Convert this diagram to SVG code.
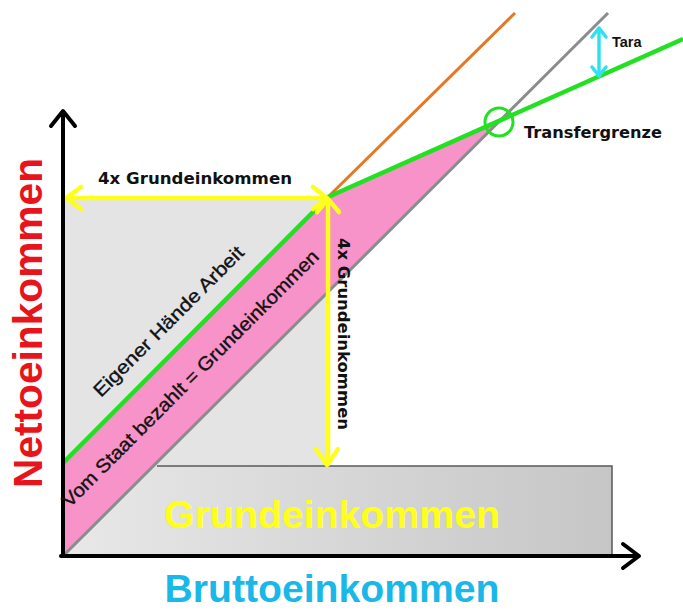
<svg xmlns="http://www.w3.org/2000/svg" width="683" height="610" viewBox="0 0 683 610">
<defs>
<linearGradient id="rectGrad" x1="0" y1="0" x2="1" y2="0">
<stop offset="0" stop-color="#e8e8e8"/>
<stop offset="1" stop-color="#c6c6c6"/>
</linearGradient>
</defs>
<style>
.lbl{font-family:"DejaVu Sans",Verdana,sans-serif;font-weight:bold;fill:#111}
.diag{font-family:"Liberation Sans",Arial,sans-serif;fill:#111;stroke:#111;stroke-width:0.35}
.big{font-family:"Liberation Sans",Arial,sans-serif;font-weight:bold}
.yel{fill:none;stroke:#ffff1e;stroke-width:4.5;stroke-linecap:round;stroke-linejoin:round}
.cy{fill:none;stroke:#2fe0f0;stroke-width:3.5;stroke-linecap:round;stroke-linejoin:round}
.ax{fill:none;stroke:#000;stroke-width:4;stroke-linecap:round;stroke-linejoin:round}
</style>
<rect width="683" height="610" fill="#fff"/>
<g id="area-own-work">
<rect x="63" y="197" width="265" height="359" fill="#e4e4e4"/>
</g>
<g id="box-grundeinkommen">
<rect x="63" y="466" width="549" height="90" fill="url(#rectGrad)"/>
<path d="M157 466 H612 V556" fill="none" stroke="#5a5a5a" stroke-width="1.5"/>
<text class="big" x="332" y="528" font-size="39" fill="#ffff1e" text-anchor="middle" textLength="336" lengthAdjust="spacingAndGlyphs">Grundeinkommen</text>
</g>
<g id="area-transfer">
<polygon points="63,463 328,197 497,123 63,556" fill="#f793c8"/>
</g>
<g id="connectors">
<line x1="328" y1="197" x2="515" y2="13" stroke="#e87722" stroke-width="3"/>
<line x1="63" y1="556" x2="608" y2="13" stroke="#8c8c8c" stroke-width="3"/>
<polyline points="63,463 328,197 683,39" fill="none" stroke="#22e022" stroke-width="4.5" stroke-linejoin="round"/>
<line x1="66" y1="198" x2="326" y2="198" class="yel"/>
<polyline points="81,187 66,198 81,209" class="yel"/>
<polyline points="313,187 327,198 313,209" class="yel"/>
<line x1="328" y1="200" x2="328" y2="464" class="yel"/>
<polyline points="317,212 328,199 339,212" class="yel"/>
<polyline points="316,449 327,465 338,449" class="yel"/>
<line x1="599" y1="29" x2="599" y2="76" class="cy"/>
<polyline points="592,37 599,28 606,37" class="cy"/>
<polyline points="592,67 599,76 606,67" class="cy"/>
<circle cx="499" cy="122" r="14" fill="none" stroke="#22e022" stroke-width="3"/>
<line x1="63" y1="556" x2="63" y2="112" class="ax"/>
<polyline points="51,126 63,111 75,126" class="ax"/>
<line x1="61" y1="556" x2="638" y2="556" class="ax"/>
<polyline points="623,544 639,556 623,568" class="ax"/>
</g>
<g id="label-tara">
<text class="big" x="612" y="47" font-size="14.5" fill="#111">Tara</text>
</g>
<g id="label-transfergrenze">
<text class="lbl" x="524" y="138" font-size="16" textLength="138" lengthAdjust="spacingAndGlyphs">Transfergrenze</text>
</g>
<g id="label-4x-horizontal">
<text class="lbl" x="195" y="184" font-size="16" text-anchor="middle" textLength="194" lengthAdjust="spacingAndGlyphs">4x Grundeinkommen</text>
</g>
<g id="label-4x-vertical">
<text class="lbl" transform="translate(338 334) rotate(90)" x="0" y="0" font-size="16" text-anchor="middle" textLength="192" lengthAdjust="spacingAndGlyphs">4x Grundeinkommen</text>
</g>
<g id="label-eigener">
<text class="diag" transform="translate(173 326) rotate(-45)" x="0" y="0" font-size="19" text-anchor="middle" textLength="204" lengthAdjust="spacingAndGlyphs">Eigener Hände Arbeit</text>
</g>
<g id="label-staat">
<text class="diag" transform="translate(195 383) rotate(-45)" x="0" y="0" font-size="19" text-anchor="middle" textLength="354" lengthAdjust="spacingAndGlyphs">Vom Staat bezahlt = Grundeinkommen</text>
</g>
<g id="axis-label-y">
<text class="big" transform="translate(42 323) rotate(-90)" x="0" y="0" font-size="40" fill="#e8141c" text-anchor="middle" textLength="330" lengthAdjust="spacingAndGlyphs">Nettoeinkommen</text>
</g>
<g id="axis-label-x">
<text class="big" x="332" y="602" font-size="39" fill="#1ab8e8" text-anchor="middle" textLength="335" lengthAdjust="spacingAndGlyphs">Bruttoeinkommen</text>
</g>
</svg>
